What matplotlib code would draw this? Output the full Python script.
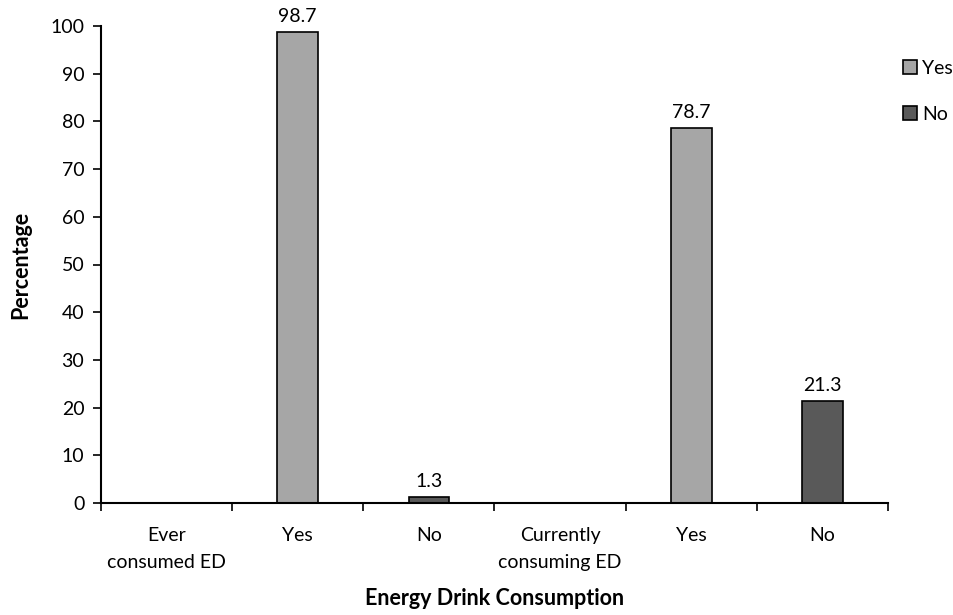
import matplotlib
matplotlib.use('Agg')
import matplotlib.pyplot as plt
import numpy as np

plt.rcParams['font.family'] = ['Lato', 'DejaVu Sans']

# Category labels along the x axis and the two response series
categories = ["Ever\nconsumed ED", "Yes", "No", "Currently\nconsuming ED", "Yes", "No"]
yes_pct = [np.nan, 98.7, np.nan, np.nan, 78.7, np.nan]
no_pct = [np.nan, np.nan, 1.3, np.nan, np.nan, 21.3]

fig = plt.figure(figsize=(9.54, 6.15), dpi=100)
ax = fig.add_axes([101 / 954, 1 - 503 / 615, 787 / 954, 477 / 615])

x = np.arange(len(categories))
bar_w = 0.31
yes_bars = ax.bar(x, yes_pct, width=bar_w, color="#A6A6A6", edgecolor="black", linewidth=1.2, label="Yes")
no_bars = ax.bar(x, no_pct, width=bar_w, color="#595959", edgecolor="black", linewidth=1.2, label="No")

for bars, vals in ((yes_bars, yes_pct), (no_bars, no_pct)):
    labels = ["" if np.isnan(v) else f"{v:.1f}" for v in vals]
    ax.bar_label(bars, labels=labels, padding=5, fontsize=14)

ax.set_xlim(-0.5, len(categories) - 0.5)
ax.set_ylim(0, 100)
ax.set_yticks(np.arange(0, 101, 10))

# boundary ticks between categories, labels centred on each category
ax.set_xticks(np.arange(-0.5, len(categories), 1.0))
ax.set_xticklabels([])
ax.set_xticks(x, minor=True)
ax.set_xticklabels(categories, minor=True, fontsize=14, linespacing=1.75)
ax.tick_params(axis='x', which='minor', length=0, pad=17)
ax.tick_params(axis='x', which='major', length=6, width=1.2, direction='out')
ax.tick_params(axis='y', length=6, width=1.2, labelsize=14, pad=6)

for side in ("top", "right"):
    ax.spines[side].set_visible(False)
for side in ("left", "bottom"):
    ax.spines[side].set_linewidth(1.5)

ax.set_ylabel("Percentage", fontsize=15.5, fontweight='bold', labelpad=14)
ax.set_xlabel("Energy Drink Consumption", fontsize=15.5, fontweight='bold', labelpad=12)

fig.legend(handles=[yes_bars, no_bars], loc='upper left', bbox_to_anchor=(893 / 954, 1 - 50 / 615),
           frameon=False, fontsize=14, handlelength=0.75, handleheight=0.75,
           handletextpad=0.25, labelspacing=1.5, borderpad=0)

fig.savefig("out.png", dpi=100)
